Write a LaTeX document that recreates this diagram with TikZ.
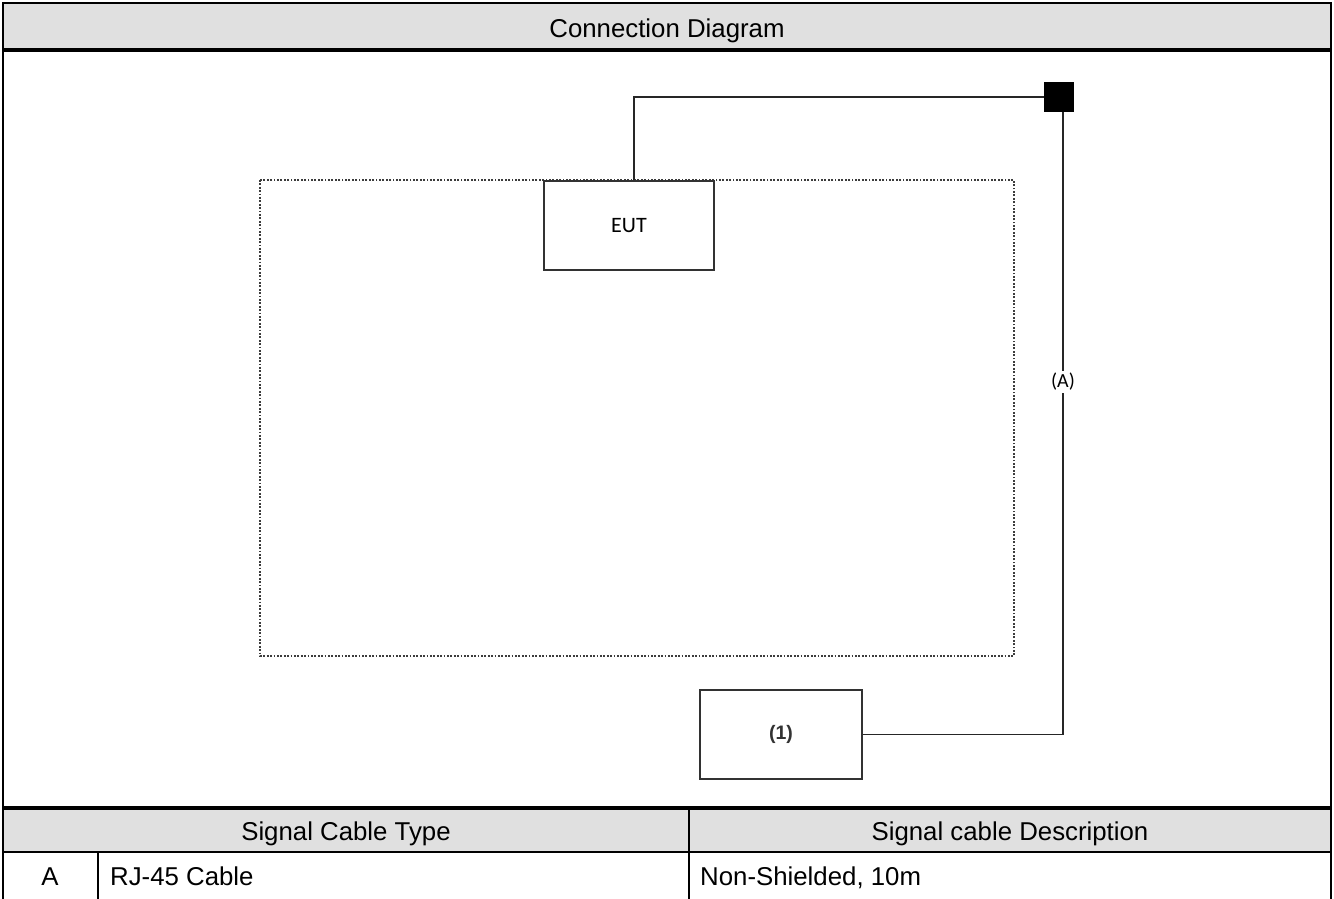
\documentclass[tikz,border=0pt]{standalone}
\usepackage{fontspec}
\setmainfont{Liberation Sans}
\newfontfamily\carl{Carlito}
\definecolor{hdrgray}{RGB}{224,224,224}
\definecolor{boxline}{RGB}{50,50,50}
\definecolor{dotline}{RGB}{60,60,60}
\tikzset{
  frame/.style={line width=2pt, black},
  heavyrule/.style={line width=3.5pt, black},
  txt/.style={inner sep=0pt, anchor=base, font=\fontsize{25.8}{30}\selectfont},
  txtl/.style={txt, anchor=base west},
  devbox/.style={draw=boxline, line width=1.6pt, inner sep=0pt, minimum width=170pt, minimum height=89pt},
  dotbox/.style={draw=dotline, line width=2.6pt, dash pattern=on 1.8pt off 1.6pt},
  wire/.style={draw=black!85, line width=1.6pt},
  sqbox/.style={fill=black, draw=black, minimum size=29pt, inner sep=0pt},
  cablelab/.style={fill=white, inner sep=2pt, font=\carl\fontsize{20}{23}\selectfont}
}
\begin{document}
\begin{tikzpicture}[x=1pt,y=-1pt]
\fill[white] (0,0) rectangle (1334,899);
\useasboundingbox (0,0) rectangle (1334,899);
% header bands
\fill[hdrgray] (3,3) rectangle (1331,50);
\fill[hdrgray] (3,808) rectangle (1331,852);
% frame and rules
\draw[frame] (3,899) -- (3,3) -- (1331,3) -- (1331,899);
\draw[heavyrule] (3,50) -- (1331,50);
\draw[heavyrule] (3,808) -- (1331,808);
\draw[frame] (3,852) -- (1331,852);
\draw[frame] (689,808) -- (689,899);
\draw[frame] (98,852) -- (98,899);
% texts
\node[txt] (title) at (667,38) {Connection Diagram};
\node[txt] (h1) at (346,840) {Signal Cable Type};
\node[txt] (h2) at (1010,840) {Signal cable Description};
\node[txt] (ca) at (50,885) {A};
\node[txtl] (cb) at (110,885) {RJ-45 Cable};
\node[txtl] (cc) at (700,885) {Non-Shielded, 10m};
% diagram
\draw[dotbox] (260,180) rectangle (1014,656);
\node[devbox] (eut) at (629,225.5) {\carl\fontsize{22}{26}\selectfont EUT};
\node[devbox, minimum width=162pt] (one) at (781,734.5) {\fontsize{19.5}{22}\selectfont\bfseries\color{black!80}(1)};
\node[sqbox] (sq) at (1058.5,97) {};
\coordinate (bend) at (634,97);
\coordinate (drop) at (1063,734.5);
\draw[wire] (eut.north -| bend) -- (bend) -- (sq.west);
\draw[wire] (sq.south -| drop) -- (drop) -- (one.east);
\node[cablelab] (lA) at (1063,382) {(A)};
\end{tikzpicture}
\end{document}
